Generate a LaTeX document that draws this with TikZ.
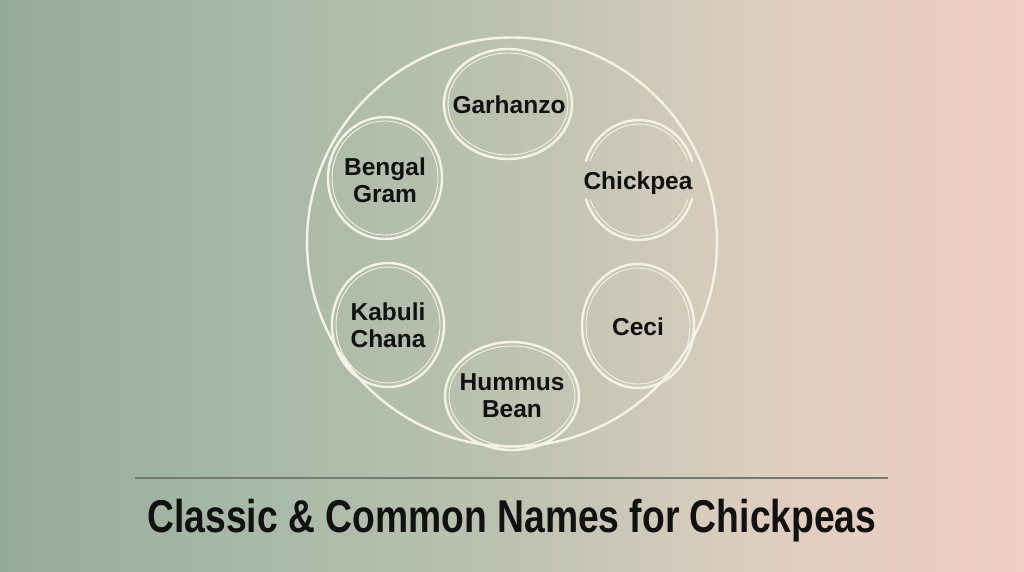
\documentclass[tikz,border=0pt]{standalone}
\usepackage{fontspec}
\setmainfont{Liberation Sans}
\newfontfamily\titlefont{Liberation Sans}[FakeStretch=0.81]
\definecolor{bgA}{HTML}{95AB99}
\definecolor{bgB}{HTML}{A8B9A7}
\definecolor{bgC}{HTML}{BDC2B0}
\definecolor{bgD}{HTML}{DDCEBF}
\definecolor{bgE}{HTML}{F1CDC2}
\definecolor{ringc}{HTML}{F5F3E8}
\definecolor{rulec}{HTML}{737A70}
\definecolor{inkc}{HTML}{111111}
\pgfdeclarehorizontalshading{bgshade}{100bp}{color(0bp)=(bgA); color(25bp)=(bgA); color(37.5bp)=(bgB); color(50bp)=(bgC); color(62bp)=(bgD); color(75bp)=(bgE); color(100bp)=(bgE)}
\begin{document}
\begin{tikzpicture}[x=1pt,y=-1pt,
  ring/.style={draw=ringc, line width=2.4pt},
  ringin/.style={draw=ringc, line width=0.9pt},
  lbl/.style={font=\fontsize{24.5}{27}\selectfont\bfseries, align=center, text=inkc},
  ttl/.style={font=\titlefont\fontsize{46}{50}\selectfont\bfseries, text=inkc}]
\shade[shading=bgshade] (0,0) rectangle (1024,571);
\useasboundingbox (0,0) rectangle (1024,571);
% big circle
\coordinate (mid) at (512,242);
\draw[ring] (mid) ellipse [x radius=205pt, y radius=204.5pt];
% labels
\node[lbl] (gar) at (509,105) {Garhanzo};
\node[lbl] (ben) at (385,180) {Bengal\\Gram};
\node[lbl] (chk) at (638,183) {Chickpea};
\node[lbl] (kab) at (388,325) {Kabuli\\Chana};
\node[lbl] (cec) at (638,327) {Ceci};
\node[lbl] (hum) at (512,396) {Hummus\\Bean};
% rings
\draw[ring] (508,104) ellipse [x radius=64pt, y radius=55pt];
\draw[ringin] (508,104) ellipse [x radius=60pt, y radius=51pt];
\draw[ring] (385,178) ellipse [x radius=57pt, y radius=61pt];
\draw[ringin] (385,178) ellipse [x radius=53pt, y radius=57pt];
\draw[ring] (388,325) ellipse [x radius=56pt, y radius=62pt];
\draw[ringin] (388,325) ellipse [x radius=52pt, y radius=58pt];
\draw[ring] (638,326) ellipse [x radius=56pt, y radius=62pt];
\draw[ringin] (638,326) ellipse [x radius=52pt, y radius=58pt];
\draw[ring] (512,396) ellipse [x radius=67pt, y radius=54pt];
\draw[ringin] (512,396) ellipse [x radius=63pt, y radius=50pt];
\coordinate (chc) at (639,180);
\draw[ring] ([shift={(18:56pt and 60pt)}]chc) arc[start angle=18, end angle=162, x radius=56pt, y radius=60pt];
\draw[ring] ([shift={(198:56pt and 60pt)}]chc) arc[start angle=198, end angle=342, x radius=56pt, y radius=60pt];
\draw[ringin] ([shift={(20:52pt and 56pt)}]chc) arc[start angle=20, end angle=160, x radius=52pt, y radius=56pt];
\draw[ringin] ([shift={(200:52pt and 56pt)}]chc) arc[start angle=200, end angle=340, x radius=52pt, y radius=56pt];
% rule and title
\coordinate (rl) at (135,478);
\coordinate (rr) at (888,478);
\draw[rulec, line width=1.2pt] (rl) -- (rr);
\node[ttl, anchor=base] (title) at (512,532) {Classic \& Common Names for Chickpeas};
\end{tikzpicture}
\end{document}
